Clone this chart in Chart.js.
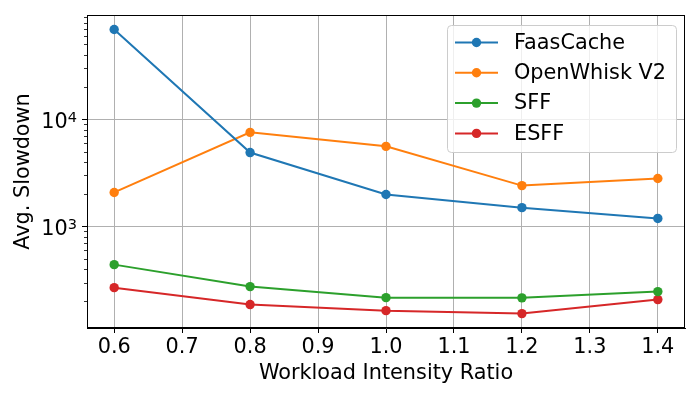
<!DOCTYPE html>
<html>
<head>
<meta charset="utf-8">
<script src="https://cdn.jsdelivr.net/npm/chart.js@4.4.1/dist/chart.umd.min.js"></script>
<style>
  html, body { margin:0; padding:0; background:#fff; }
  canvas { display:block; }
</style>
</head>
<body>
<canvas id="slowdownChart" width="700" height="400"></canvas>
<script>
// data
const ratios = [0.6, 0.8, 1.0, 1.2, 1.4]
const seriesNames = ['FaasCache', 'OpenWhisk V2', 'SFF', 'ESFF']
const faasCache = [69000, 4900, 1990, 1500, 1190]
const openWhisk = [2080, 7570, 5600, 2410, 2810]
const sff = [441, 275, 217, 216, 247]
const esff = [269, 187, 164, 154, 208]
const xTicks = [0.6, 0.7, 0.8, 0.9, 1.0, 1.1, 1.2, 1.3, 1.4]
const yTicks = [1000, 10000]
const yTickExp = ['3', '4']

const colors = ['#1f77b4', '#ff7f0e', '#2ca02c', '#d62728']
const allSeries = [faasCache, openWhisk, sff, esff]
const FONT = 'DejaVu Sans'
const FS = 20.8
const MARKER = 4.7

function points(vals){
  return ratios.map((r, i) => ({ x: r, y: vals[i] }))
}

// box around the axes
const frame = {
  id:'frame',
  afterDatasetsDraw(chart){
    const { ctx, chartArea:a } = chart
    ctx.save()
    ctx.strokeStyle = '#000'
    ctx.lineWidth = 1
    ctx.strokeRect(a.left + 0.5, a.top + 0.5, a.right - a.left - 1, a.bottom - a.top - 1)
    ctx.restore()
  }
}

// minor ticks + 10^n labels on the log axis
const logAxis = {
  id:'logAxis',
  afterDraw(chart){
    const { ctx, chartArea:a } = chart
    const y = chart.scales.y
    ctx.save()
    ctx.strokeStyle = '#000'
    ctx.lineWidth = 0.8
    for (let d = 10; d <= 100000; d *= 10) {
      for (let k = 2; k <= 9; k++) {
        const v = k * d
        if (v < y.min || v > y.max) continue
        const py = Math.round(y.getPixelForValue(v)) + 0.5
        ctx.beginPath()
        ctx.moveTo(a.left, py)
        ctx.lineTo(a.left - 3, py)
        ctx.stroke()
      }
    }
    ctx.fillStyle = '#000'
    ctx.textAlign = 'right'
    ctx.textBaseline = 'alphabetic'
    yTicks.forEach((v, i) => {
      const py = y.getPixelForValue(v)
      const right = a.left - 10
      ctx.font = (FS * 0.7) + 'px "' + FONT + '"'
      const ew = ctx.measureText(yTickExp[i]).width
      ctx.fillText(yTickExp[i], right, py + 2.5)
      ctx.font = FS + 'px "' + FONT + '"'
      ctx.fillText('10', right - ew, py + 8.5)
    })
    ctx.restore()
  }
}

// matplotlib style legend inside the plot
const boxLegend = {
  id:'boxLegend',
  afterDraw(chart){
    const { ctx, chartArea:a } = chart
    const w = 229, h = 127
    const x0 = a.right - 9 - w, y0 = a.top + 10
    ctx.save()
    ctx.beginPath()
    ctx.roundRect(x0 + 0.5, y0 + 0.5, w, h, 4)
    ctx.fillStyle = 'rgba(255,255,255,0.8)'
    ctx.fill()
    ctx.strokeStyle = '#cccccc'
    ctx.lineWidth = 1
    ctx.stroke()
    ctx.font = FS + 'px "' + FONT + '"'
    ctx.textBaseline = 'middle'
    chart.data.datasets.forEach((ds, i) => {
      const ry = y0 + 17.5 + i * 30.3
      ctx.strokeStyle = ds.borderColor
      ctx.lineWidth = 2
      ctx.beginPath()
      ctx.moveTo(x0 + 8, ry)
      ctx.lineTo(x0 + 51, ry)
      ctx.stroke()
      ctx.fillStyle = ds.borderColor
      ctx.beginPath()
      ctx.arc(x0 + 29.5, ry, MARKER, 0, Math.PI * 2)
      ctx.fill()
      ctx.fillStyle = '#000'
      ctx.fillText(ds.label, x0 + 67, ry + 1)
    })
    ctx.restore()
  }
}

new Chart(document.getElementById('slowdownChart'), {
  type:'line',
  data:{
    datasets: allSeries.map((vals, i) => ({
      label: seriesNames[i],
      data: points(vals),
      borderColor: colors[i],
      backgroundColor: colors[i],
      borderWidth: 2,
      pointRadius: MARKER,
      pointBorderWidth: 0,
      pointHoverRadius: MARKER,
      tension: 0
    }))
  },
  options:{
    responsive:false,
    animation:false,
    devicePixelRatio:1,
    layout:{ padding:{ top:15, right:15, left:0, bottom:0 } },
    plugins:{
      legend:{ display:false },
      tooltip:{ enabled:false }
    },
    scales:{
      x:{
        type:'linear',
        min:0.56,
        max:1.44,
        afterBuildTicks(scale){ scale.ticks = xTicks.map(v => ({ value:v })) },
        afterFit(scale){ scale.height = 72 },
        ticks:{
          callback: v => v.toFixed(1),
          color:'#000',
          font:{ family:FONT, size:FS },
          padding:2,
          maxRotation:0,
          autoSkip:false
        },
        grid:{ color:'#b0b0b0', lineWidth:1, tickColor:'#000', tickLength:5, tickWidth:1 },
        border:{ display:true, color:'#000', width:1 },
        title:{ display:true, text:'Workload Intensity Ratio', color:'#000', font:{ family:FONT, size:FS }, padding:{ top:0, bottom:14 } }
      },
      y:{
        type:'logarithmic',
        min:113,
        max:94200,
        afterBuildTicks(scale){ scale.ticks = yTicks.map(v => ({ value:v })) },
        afterFit(scale){
          scale.width = 87
          scale.paddingTop = 0
          scale.paddingBottom = 0
        },
        ticks:{ display:false },
        grid:{ color:'#b0b0b0', lineWidth:1, tickColor:'#000', tickLength:5, tickWidth:1 },
        border:{ display:true, color:'#000', width:1 },
        title:{ display:true, text:'Avg. Slowdown', color:'#000', font:{ family:FONT, size:FS }, padding:{ top:11, bottom:0 } }
      }
    }
  },
  plugins:[frame, logAxis, boxLegend]
})
</script>
</body>
</html>
